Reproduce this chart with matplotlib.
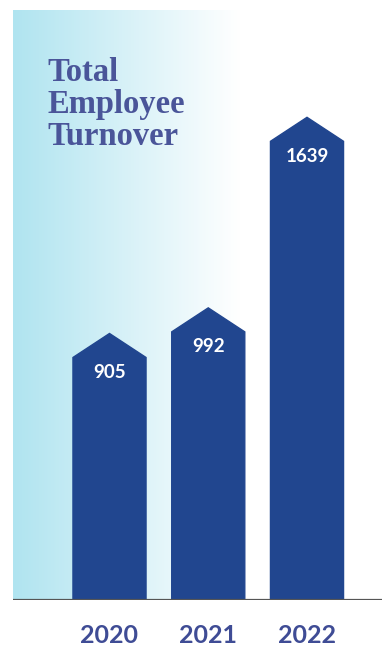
import numpy as np
import matplotlib
matplotlib.use("Agg")
import matplotlib.pyplot as plt
from matplotlib.patches import Polygon

# data
years = ["2020", "2021", "2022"]
turnover = [905, 992, 1639]
title_lines = ["Total", "Employee", "Turnover"]

bar_color = "#21468F"
title_color = "#4A5599"
year_color = "#3F4C95"

W, H = 382, 646
fig = plt.figure(figsize=(W / 100, H / 100), dpi=100)
ax = fig.add_axes([13 / W, (H - 600) / H, 1 - 13 / W, 590 / H])

px_per_unit = 0.2945
ytop = 590 / px_per_unit
spacing = 98.75
xmin = -(109.5 - 13) / spacing
xmax = 2 + (382 - 307) / spacing
ax.set_xlim(xmin, xmax)
ax.set_ylim(0, ytop)

# gradient background
grad_end = (240 - 109.5) / spacing
t = np.linspace(0, 1, 256)
c0 = np.array([176, 228, 240]) / 255
grad = c0[None, :] * (1 - t[:, None]) + np.ones(3)[None, :] * t[:, None]
ax.imshow(grad[None, :, :], extent=[xmin, grad_end, 0, ytop], aspect="auto", zorder=0)

# arrow-topped bars
width = 0.74
tip = 24 / px_per_unit
for i, v in enumerate(turnover):
    verts = [(i - width / 2, 0), (i - width / 2, v - tip), (i, v),
             (i + width / 2, v - tip), (i + width / 2, 0)]
    ax.add_patch(Polygon(verts, closed=True, color=bar_color, zorder=2))
    ax.text(i, v - 39 / px_per_unit, str(v), color="white", ha="center", va="center",
            fontsize=13.5, fontweight="bold", family="Lato", zorder=3)

ax.axhline(0, color="#555555", lw=1.6, zorder=4)

ax.set_xticks(range(len(years)), years)
ax.tick_params(axis="x", length=0, pad=17, labelsize=18, labelcolor=year_color)
for lbl in ax.get_xticklabels():
    lbl.set_fontweight("bold")
    lbl.set_family("Lato")
ax.set_yticks([])
for s in ax.spines.values():
    s.set_visible(False)

# title
for k, line in enumerate(title_lines):
    fig.text(47 / W, 1 - (81 + 32 * k) / H, line, color=title_color, fontsize=23.5,
             fontweight="bold", family="Liberation Serif", va="baseline", ha="left")

fig.savefig("out.png", dpi=100)
